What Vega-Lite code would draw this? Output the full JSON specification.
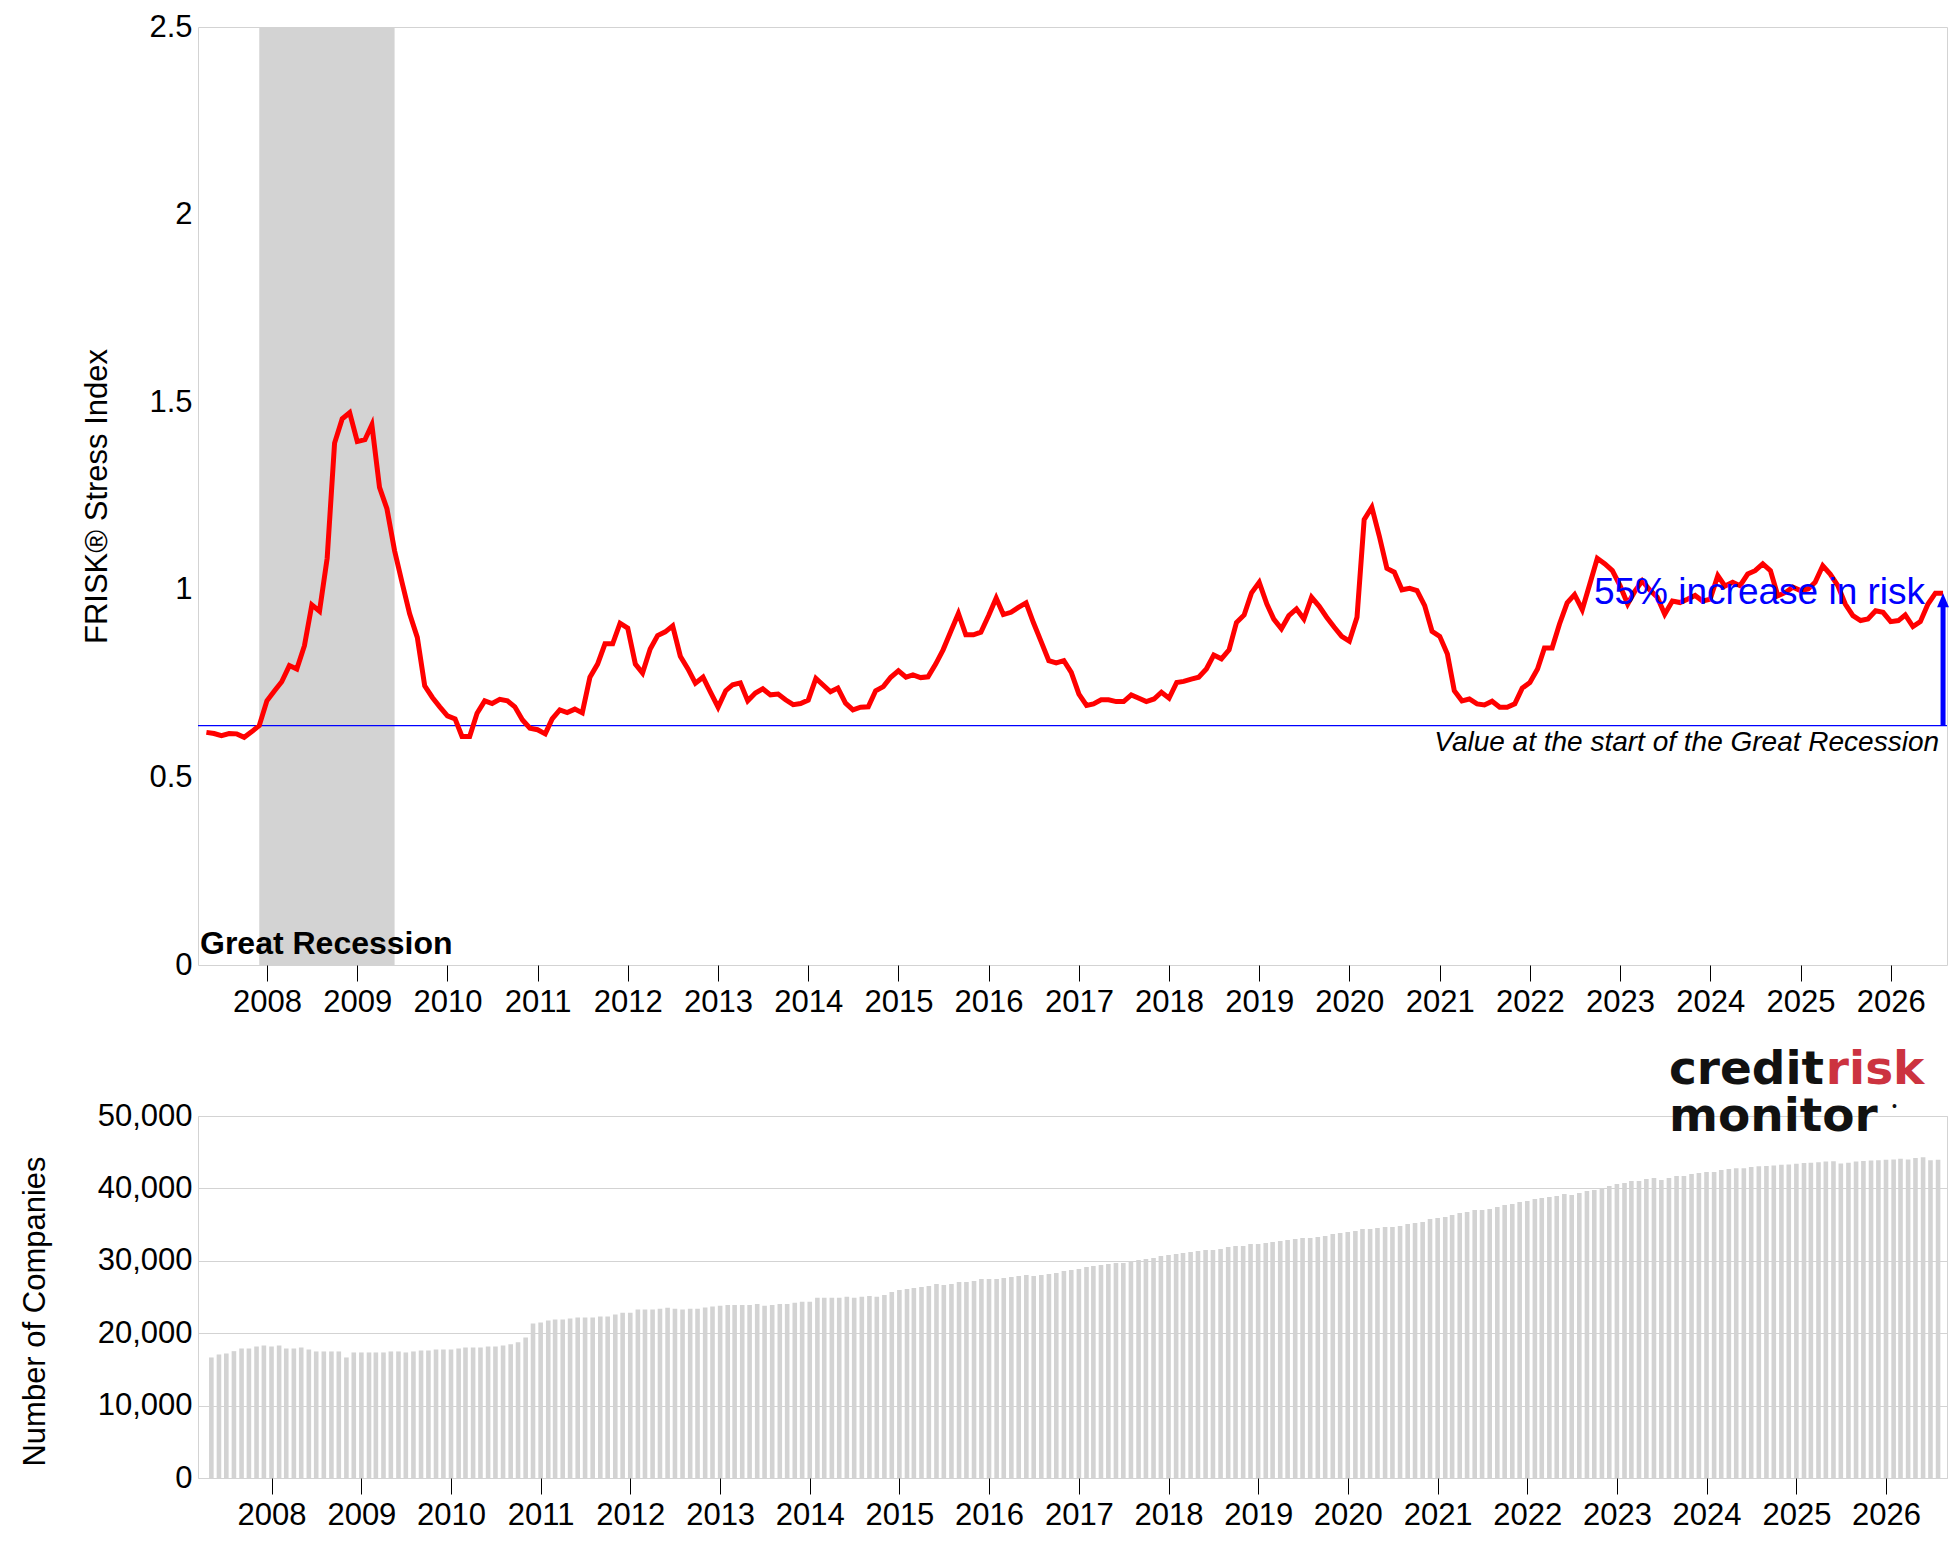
{
  "$schema": "https://vega.github.io/schema/vega-lite/v6.json",
  "background": "white",
  "padding": {"left": 18, "top": 10, "right": 3, "bottom": 3},
  "spacing": 27,
  "config": {
    "font": "Liberation Sans",
    "view": {"stroke": "#d3d3d3"},
    "axis": {
      "labelFont": "Liberation Sans", "labelFontSize": 31, "labelColor": "black",
      "titleFont": "Liberation Sans", "titleFontSize": 31, "titleFontWeight": "normal", "titleColor": "black",
      "gridColor": "#d3d3d3", "domain": false, "tickColor": "black"
    }
  },
  "datasets": {
    "frisk": [
      {"date": "2007-05-01", "frisk": 0.620, "companies": 16650},
      {"date": "2007-06-01", "frisk": 0.617, "companies": 17060},
      {"date": "2007-07-01", "frisk": 0.611, "companies": 17200},
      {"date": "2007-08-01", "frisk": 0.617, "companies": 17520},
      {"date": "2007-09-01", "frisk": 0.616, "companies": 17890},
      {"date": "2007-10-01", "frisk": 0.607, "companies": 17890},
      {"date": "2007-11-01", "frisk": 0.622, "companies": 18170},
      {"date": "2007-12-01", "frisk": 0.638, "companies": 18300},
      {"date": "2008-01-01", "frisk": 0.704, "companies": 18170},
      {"date": "2008-02-01", "frisk": 0.731, "companies": 18300},
      {"date": "2008-03-01", "frisk": 0.755, "companies": 17890},
      {"date": "2008-04-01", "frisk": 0.798, "companies": 17890},
      {"date": "2008-05-01", "frisk": 0.789, "companies": 18030},
      {"date": "2008-06-01", "frisk": 0.851, "companies": 17750},
      {"date": "2008-07-01", "frisk": 0.960, "companies": 17480},
      {"date": "2008-08-01", "frisk": 0.943, "companies": 17480},
      {"date": "2008-09-01", "frisk": 1.084, "companies": 17480},
      {"date": "2008-10-01", "frisk": 1.391, "companies": 17480},
      {"date": "2008-11-01", "frisk": 1.456, "companies": 16650},
      {"date": "2008-12-01", "frisk": 1.472, "companies": 17340},
      {"date": "2009-01-01", "frisk": 1.395, "companies": 17340},
      {"date": "2009-02-01", "frisk": 1.400, "companies": 17340},
      {"date": "2009-03-01", "frisk": 1.440, "companies": 17340},
      {"date": "2009-04-01", "frisk": 1.273, "companies": 17340},
      {"date": "2009-05-01", "frisk": 1.216, "companies": 17480},
      {"date": "2009-06-01", "frisk": 1.104, "companies": 17480},
      {"date": "2009-07-01", "frisk": 1.020, "companies": 17340},
      {"date": "2009-08-01", "frisk": 0.936, "companies": 17480},
      {"date": "2009-09-01", "frisk": 0.873, "companies": 17610},
      {"date": "2009-10-01", "frisk": 0.744, "companies": 17610},
      {"date": "2009-11-01", "frisk": 0.713, "companies": 17750},
      {"date": "2009-12-01", "frisk": 0.688, "companies": 17750},
      {"date": "2010-01-01", "frisk": 0.664, "companies": 17750},
      {"date": "2010-02-01", "frisk": 0.656, "companies": 17890},
      {"date": "2010-03-01", "frisk": 0.609, "companies": 18030},
      {"date": "2010-04-01", "frisk": 0.609, "companies": 18030},
      {"date": "2010-05-01", "frisk": 0.671, "companies": 18030},
      {"date": "2010-06-01", "frisk": 0.704, "companies": 18170},
      {"date": "2010-07-01", "frisk": 0.697, "companies": 18170},
      {"date": "2010-08-01", "frisk": 0.708, "companies": 18300},
      {"date": "2010-09-01", "frisk": 0.704, "companies": 18490},
      {"date": "2010-10-01", "frisk": 0.688, "companies": 18760},
      {"date": "2010-11-01", "frisk": 0.653, "companies": 19400},
      {"date": "2010-12-01", "frisk": 0.631, "companies": 21330},
      {"date": "2011-01-01", "frisk": 0.627, "companies": 21470},
      {"date": "2011-02-01", "frisk": 0.616, "companies": 21740},
      {"date": "2011-03-01", "frisk": 0.656, "companies": 21880},
      {"date": "2011-04-01", "frisk": 0.680, "companies": 21880},
      {"date": "2011-05-01", "frisk": 0.673, "companies": 22020},
      {"date": "2011-06-01", "frisk": 0.682, "companies": 22160},
      {"date": "2011-07-01", "frisk": 0.672, "companies": 22160},
      {"date": "2011-08-01", "frisk": 0.767, "companies": 22160},
      {"date": "2011-09-01", "frisk": 0.802, "companies": 22290},
      {"date": "2011-10-01", "frisk": 0.856, "companies": 22290},
      {"date": "2011-11-01", "frisk": 0.856, "companies": 22570},
      {"date": "2011-12-01", "frisk": 0.911, "companies": 22840},
      {"date": "2012-01-01", "frisk": 0.898, "companies": 22840},
      {"date": "2012-02-01", "frisk": 0.802, "companies": 23260},
      {"date": "2012-03-01", "frisk": 0.778, "companies": 23260},
      {"date": "2012-04-01", "frisk": 0.842, "companies": 23260},
      {"date": "2012-05-01", "frisk": 0.878, "companies": 23390},
      {"date": "2012-06-01", "frisk": 0.888, "companies": 23530},
      {"date": "2012-07-01", "frisk": 0.904, "companies": 23390},
      {"date": "2012-08-01", "frisk": 0.823, "companies": 23260},
      {"date": "2012-09-01", "frisk": 0.789, "companies": 23390},
      {"date": "2012-10-01", "frisk": 0.751, "companies": 23390},
      {"date": "2012-11-01", "frisk": 0.767, "companies": 23560},
      {"date": "2012-12-01", "frisk": 0.727, "companies": 23700},
      {"date": "2013-01-01", "frisk": 0.687, "companies": 23780},
      {"date": "2013-02-01", "frisk": 0.731, "companies": 23910},
      {"date": "2013-03-01", "frisk": 0.747, "companies": 23910},
      {"date": "2013-04-01", "frisk": 0.752, "companies": 23910},
      {"date": "2013-05-01", "frisk": 0.704, "companies": 23910},
      {"date": "2013-06-01", "frisk": 0.725, "companies": 24050},
      {"date": "2013-07-01", "frisk": 0.736, "companies": 23780},
      {"date": "2013-08-01", "frisk": 0.720, "companies": 23910},
      {"date": "2013-09-01", "frisk": 0.722, "companies": 24050},
      {"date": "2013-10-01", "frisk": 0.707, "companies": 24050},
      {"date": "2013-11-01", "frisk": 0.694, "companies": 24190},
      {"date": "2013-12-01", "frisk": 0.697, "companies": 24330},
      {"date": "2014-01-01", "frisk": 0.706, "companies": 24330},
      {"date": "2014-02-01", "frisk": 0.764, "companies": 24880},
      {"date": "2014-03-01", "frisk": 0.747, "companies": 24880},
      {"date": "2014-04-01", "frisk": 0.728, "companies": 24880},
      {"date": "2014-05-01", "frisk": 0.738, "companies": 24880},
      {"date": "2014-06-01", "frisk": 0.698, "companies": 25020},
      {"date": "2014-07-01", "frisk": 0.680, "companies": 24880},
      {"date": "2014-08-01", "frisk": 0.687, "companies": 25020},
      {"date": "2014-09-01", "frisk": 0.688, "companies": 25150},
      {"date": "2014-10-01", "frisk": 0.731, "companies": 25020},
      {"date": "2014-11-01", "frisk": 0.742, "companies": 25290},
      {"date": "2014-12-01", "frisk": 0.767, "companies": 25700},
      {"date": "2015-01-01", "frisk": 0.784, "companies": 25980},
      {"date": "2015-02-01", "frisk": 0.767, "companies": 26120},
      {"date": "2015-03-01", "frisk": 0.773, "companies": 26260},
      {"date": "2015-04-01", "frisk": 0.766, "companies": 26390},
      {"date": "2015-05-01", "frisk": 0.768, "companies": 26530},
      {"date": "2015-06-01", "frisk": 0.802, "companies": 26810},
      {"date": "2015-07-01", "frisk": 0.840, "companies": 26670},
      {"date": "2015-08-01", "frisk": 0.889, "companies": 26810},
      {"date": "2015-09-01", "frisk": 0.937, "companies": 27080},
      {"date": "2015-10-01", "frisk": 0.880, "companies": 27080},
      {"date": "2015-11-01", "frisk": 0.880, "companies": 27220},
      {"date": "2015-12-01", "frisk": 0.887, "companies": 27490},
      {"date": "2016-01-01", "frisk": 0.931, "companies": 27490},
      {"date": "2016-02-01", "frisk": 0.978, "companies": 27490},
      {"date": "2016-03-01", "frisk": 0.934, "companies": 27630},
      {"date": "2016-04-01", "frisk": 0.940, "companies": 27770},
      {"date": "2016-05-01", "frisk": 0.953, "companies": 27910},
      {"date": "2016-06-01", "frisk": 0.965, "companies": 28050},
      {"date": "2016-07-01", "frisk": 0.912, "companies": 27910},
      {"date": "2016-08-01", "frisk": 0.862, "companies": 28050},
      {"date": "2016-09-01", "frisk": 0.811, "companies": 28180},
      {"date": "2016-10-01", "frisk": 0.805, "companies": 28320},
      {"date": "2016-11-01", "frisk": 0.811, "companies": 28600},
      {"date": "2016-12-01", "frisk": 0.780, "companies": 28730},
      {"date": "2017-01-01", "frisk": 0.722, "companies": 28870},
      {"date": "2017-02-01", "frisk": 0.692, "companies": 29150},
      {"date": "2017-03-01", "frisk": 0.696, "companies": 29280},
      {"date": "2017-04-01", "frisk": 0.707, "companies": 29420},
      {"date": "2017-05-01", "frisk": 0.707, "companies": 29560},
      {"date": "2017-06-01", "frisk": 0.702, "companies": 29700},
      {"date": "2017-07-01", "frisk": 0.702, "companies": 29700},
      {"date": "2017-08-01", "frisk": 0.720, "companies": 29970},
      {"date": "2017-09-01", "frisk": 0.711, "companies": 30110},
      {"date": "2017-10-01", "frisk": 0.702, "companies": 30250},
      {"date": "2017-11-01", "frisk": 0.709, "companies": 30390},
      {"date": "2017-12-01", "frisk": 0.727, "companies": 30660},
      {"date": "2018-01-01", "frisk": 0.711, "companies": 30800},
      {"date": "2018-02-01", "frisk": 0.753, "companies": 30940},
      {"date": "2018-03-01", "frisk": 0.756, "companies": 31070},
      {"date": "2018-04-01", "frisk": 0.762, "companies": 31210},
      {"date": "2018-05-01", "frisk": 0.767, "companies": 31350},
      {"date": "2018-06-01", "frisk": 0.789, "companies": 31490},
      {"date": "2018-07-01", "frisk": 0.826, "companies": 31490},
      {"date": "2018-08-01", "frisk": 0.816, "companies": 31630},
      {"date": "2018-09-01", "frisk": 0.840, "companies": 31910},
      {"date": "2018-10-01", "frisk": 0.913, "companies": 32050},
      {"date": "2018-11-01", "frisk": 0.933, "companies": 32050},
      {"date": "2018-12-01", "frisk": 0.992, "companies": 32320},
      {"date": "2019-01-01", "frisk": 1.020, "companies": 32320},
      {"date": "2019-02-01", "frisk": 0.962, "companies": 32460},
      {"date": "2019-03-01", "frisk": 0.922, "companies": 32600},
      {"date": "2019-04-01", "frisk": 0.896, "companies": 32740},
      {"date": "2019-05-01", "frisk": 0.931, "companies": 32880},
      {"date": "2019-06-01", "frisk": 0.949, "companies": 33010},
      {"date": "2019-07-01", "frisk": 0.922, "companies": 33150},
      {"date": "2019-08-01", "frisk": 0.980, "companies": 33150},
      {"date": "2019-09-01", "frisk": 0.956, "companies": 33290},
      {"date": "2019-10-01", "frisk": 0.927, "companies": 33430},
      {"date": "2019-11-01", "frisk": 0.900, "companies": 33700},
      {"date": "2019-12-01", "frisk": 0.876, "companies": 33840},
      {"date": "2020-01-01", "frisk": 0.863, "companies": 33980},
      {"date": "2020-02-01", "frisk": 0.927, "companies": 34120},
      {"date": "2020-03-01", "frisk": 1.187, "companies": 34390},
      {"date": "2020-04-01", "frisk": 1.220, "companies": 34390},
      {"date": "2020-05-01", "frisk": 1.144, "companies": 34530},
      {"date": "2020-06-01", "frisk": 1.057, "companies": 34670},
      {"date": "2020-07-01", "frisk": 1.047, "companies": 34670},
      {"date": "2020-08-01", "frisk": 1.000, "companies": 34810},
      {"date": "2020-09-01", "frisk": 1.004, "companies": 35080},
      {"date": "2020-10-01", "frisk": 0.998, "companies": 35220},
      {"date": "2020-11-01", "frisk": 0.958, "companies": 35360},
      {"date": "2020-12-01", "frisk": 0.889, "companies": 35770},
      {"date": "2021-01-01", "frisk": 0.876, "companies": 35910},
      {"date": "2021-02-01", "frisk": 0.829, "companies": 36050},
      {"date": "2021-03-01", "frisk": 0.731, "companies": 36320},
      {"date": "2021-04-01", "frisk": 0.704, "companies": 36600},
      {"date": "2021-05-01", "frisk": 0.709, "companies": 36740},
      {"date": "2021-06-01", "frisk": 0.696, "companies": 37010},
      {"date": "2021-07-01", "frisk": 0.693, "companies": 37010},
      {"date": "2021-08-01", "frisk": 0.703, "companies": 37150},
      {"date": "2021-09-01", "frisk": 0.687, "companies": 37430},
      {"date": "2021-10-01", "frisk": 0.687, "companies": 37700},
      {"date": "2021-11-01", "frisk": 0.696, "companies": 37840},
      {"date": "2021-12-01", "frisk": 0.738, "companies": 38120},
      {"date": "2022-01-01", "frisk": 0.753, "companies": 38260},
      {"date": "2022-02-01", "frisk": 0.789, "companies": 38530},
      {"date": "2022-03-01", "frisk": 0.845, "companies": 38670},
      {"date": "2022-04-01", "frisk": 0.845, "companies": 38810},
      {"date": "2022-05-01", "frisk": 0.909, "companies": 38950},
      {"date": "2022-06-01", "frisk": 0.965, "companies": 39220},
      {"date": "2022-07-01", "frisk": 0.987, "companies": 39080},
      {"date": "2022-08-01", "frisk": 0.947, "companies": 39360},
      {"date": "2022-09-01", "frisk": 1.016, "companies": 39640},
      {"date": "2022-10-01", "frisk": 1.084, "companies": 39770},
      {"date": "2022-11-01", "frisk": 1.069, "companies": 40050},
      {"date": "2022-12-01", "frisk": 1.051, "companies": 40330},
      {"date": "2023-01-01", "frisk": 1.011, "companies": 40600},
      {"date": "2023-02-01", "frisk": 0.962, "companies": 40740},
      {"date": "2023-03-01", "frisk": 0.995, "companies": 41020},
      {"date": "2023-04-01", "frisk": 1.024, "companies": 41020},
      {"date": "2023-05-01", "frisk": 1.000, "companies": 41290},
      {"date": "2023-06-01", "frisk": 0.980, "companies": 41430},
      {"date": "2023-07-01", "frisk": 0.935, "companies": 41150},
      {"date": "2023-08-01", "frisk": 0.970, "companies": 41430},
      {"date": "2023-09-01", "frisk": 0.966, "companies": 41700},
      {"date": "2023-10-01", "frisk": 0.975, "companies": 41700},
      {"date": "2023-11-01", "frisk": 0.985, "companies": 41980},
      {"date": "2023-12-01", "frisk": 0.970, "companies": 42120},
      {"date": "2024-01-01", "frisk": 0.975, "companies": 42260},
      {"date": "2024-02-01", "frisk": 1.038, "companies": 42260},
      {"date": "2024-03-01", "frisk": 1.010, "companies": 42530},
      {"date": "2024-04-01", "frisk": 1.020, "companies": 42670},
      {"date": "2024-05-01", "frisk": 1.011, "companies": 42800},
      {"date": "2024-06-01", "frisk": 1.042, "companies": 42800},
      {"date": "2024-07-01", "frisk": 1.051, "companies": 42950},
      {"date": "2024-08-01", "frisk": 1.069, "companies": 43050},
      {"date": "2024-09-01", "frisk": 1.051, "companies": 43100},
      {"date": "2024-10-01", "frisk": 0.984, "companies": 43150},
      {"date": "2024-11-01", "frisk": 0.993, "companies": 43250},
      {"date": "2024-12-01", "frisk": 1.007, "companies": 43300},
      {"date": "2025-01-01", "frisk": 0.998, "companies": 43400},
      {"date": "2025-02-01", "frisk": 1.002, "companies": 43500},
      {"date": "2025-03-01", "frisk": 1.020, "companies": 43550},
      {"date": "2025-04-01", "frisk": 1.064, "companies": 43600},
      {"date": "2025-05-01", "frisk": 1.042, "companies": 43700},
      {"date": "2025-06-01", "frisk": 1.011, "companies": 43750},
      {"date": "2025-07-01", "frisk": 0.962, "companies": 43450},
      {"date": "2025-08-01", "frisk": 0.931, "companies": 43550},
      {"date": "2025-09-01", "frisk": 0.918, "companies": 43700},
      {"date": "2025-10-01", "frisk": 0.922, "companies": 43800},
      {"date": "2025-11-01", "frisk": 0.944, "companies": 43850},
      {"date": "2025-12-01", "frisk": 0.940, "companies": 43900},
      {"date": "2026-01-01", "frisk": 0.915, "companies": 43950},
      {"date": "2026-02-01", "frisk": 0.918, "companies": 44000},
      {"date": "2026-03-01", "frisk": 0.933, "companies": 44100},
      {"date": "2026-04-01", "frisk": 0.902, "companies": 44000},
      {"date": "2026-05-01", "frisk": 0.915, "companies": 44200},
      {"date": "2026-06-01", "frisk": 0.962, "companies": 44300},
      {"date": "2026-07-01", "frisk": 0.991, "companies": 43900},
      {"date": "2026-08-01", "frisk": 0.991, "companies": 43950}
    ]
  },
  "vconcat": [
    {
      "width": 1749,
      "height": 938,
      "layer": [
        {
          "data": {"values": [{"start": "2007-12-01", "end": "2009-06-01"}]},
          "mark": {"type": "rect", "color": "#d3d3d3"},
          "encoding": {
            "x": {"field": "start", "type": "temporal"},
            "x2": {"field": "end"}
          }
        },
        {
          "data": {"values": [{}]},
          "mark": {"type": "text", "text": "Great Recession", "align": "left", "baseline": "alphabetic", "dx": 2, "dy": -11, "fontSize": 32, "fontWeight": "bold", "color": "black"},
          "encoding": {
            "x": {"datum": {"year": 2007, "month": 3, "date": 28, "utc": true}, "type": "temporal"},
            "y": {"datum": 0, "type": "quantitative"}
          }
        },
        {
          "data": {"values": [{}]},
          "mark": {"type": "rule", "color": "blue", "strokeWidth": 1.3},
          "encoding": {"y": {"datum": 0.638, "type": "quantitative"}}
        },
        {
          "data": {"values": [{}]},
          "mark": {"type": "text", "text": "Value at the start of the Great Recession", "align": "right", "baseline": "top", "dx": -4, "dy": 3, "fontSize": 28, "fontStyle": "italic", "color": "black"},
          "encoding": {
            "x": {"datum": {"year": 2026, "month": 8, "date": 1, "utc": true}, "type": "temporal"},
            "y": {"datum": 0.638, "type": "quantitative"}
          }
        },
        {
          "data": {"name": "frisk"},
          "mark": {"type": "line", "color": "#ff0000", "strokeWidth": 5},
          "encoding": {
            "x": {
              "field": "date", "type": "temporal",
              "scale": {"type": "utc", "domain": [{"year": 2007, "month": 3, "date": 28, "utc": true}, {"year": 2026, "month": 8, "date": 17, "utc": true}]},
              "axis": {"title": null, "format": "%Y", "tickCount": {"interval": "year", "step": 1}, "grid": false, "tickSize": 16, "labelPadding": 6, "labelOverlap": false, "labelFlush": false}
            },
            "y": {
              "field": "frisk", "type": "quantitative",
              "scale": {"domain": [0, 2.5], "nice": false},
              "axis": {"title": "FRISK® Stress Index", "format": "~g", "values": [0, 0.5, 1, 1.5, 2, 2.5], "ticks": false, "labelPadding": 6, "titlePadding": 35}
            }
          }
        },
        {
          "data": {"values": [{}]},
          "mark": {"type": "rule", "color": "blue", "strokeWidth": 5},
          "encoding": {
            "x": {"datum": {"year": 2026, "month": 8, "date": 1, "utc": true}, "type": "temporal"},
            "y": {"datum": 0.638, "type": "quantitative"},
            "y2": {"datum": 0.972}
          }
        },
        {
          "data": {"values": [{}]},
          "mark": {"type": "point", "shape": "M0,0L-0.85,2L0.85,2Z", "filled": true, "color": "blue", "size": 196, "opacity": 1, "strokeWidth": 0},
          "encoding": {
            "x": {"datum": {"year": 2026, "month": 8, "date": 1, "utc": true}, "type": "temporal"},
            "y": {"datum": 0.991, "type": "quantitative"}
          }
        },
        {
          "data": {"values": [{}]},
          "mark": {"type": "text", "text": "55% increase in risk", "align": "right", "baseline": "middle", "dx": -18, "fontSize": 37, "color": "blue"},
          "encoding": {
            "x": {"datum": {"year": 2026, "month": 8, "date": 1, "utc": true}, "type": "temporal"},
            "y": {"datum": 0.991, "type": "quantitative"}
          }
        }
      ]
    },
    {
      "width": 1749,
      "height": 362,
      "layer": [
        {
          "data": {"name": "frisk"},
          "mark": {"type": "bar", "color": "#d3d3d3", "width": 4.6},
          "encoding": {
            "x": {
              "field": "date", "type": "temporal",
              "scale": {"type": "utc", "domain": [{"year": 2007, "month": 3, "date": 28, "utc": true}, {"year": 2026, "month": 8, "date": 17, "utc": true}]},
              "axis": {"title": null, "format": "%Y", "tickCount": {"interval": "year", "step": 1}, "grid": false, "tickSize": 16, "labelPadding": 6, "labelOverlap": false, "labelFlush": false}
            },
            "y": {
              "field": "companies", "type": "quantitative",
              "scale": {"domain": [0, 50000], "nice": false},
              "axis": {"title": "Number of Companies", "format": ",d", "values": [0, 10000, 20000, 30000, 40000, 50000], "ticks": false, "labelPadding": 6, "titlePadding": 46, "titleY": 195}
            }
          }
        },
        {
          "data": {"values": [{}]},
          "mark": {"type": "text", "text": "credit", "align": "left", "baseline": "alphabetic", "font": "DejaVu Sans", "fontWeight": "bold", "fontSize": 47, "color": "#111111"},
          "encoding": {
            "x": {"datum": {"year": 2023, "month": 8, "date": 1, "utc": true}, "type": "temporal"},
            "y": {"datum": 54400, "type": "quantitative"}
          }
        },
        {
          "data": {"values": [{}]},
          "mark": {"type": "text", "text": "risk", "align": "left", "baseline": "alphabetic", "font": "DejaVu Sans", "fontWeight": "bold", "fontSize": 47, "color": "#cc3340"},
          "encoding": {
            "x": {"datum": {"year": 2025, "month": 5, "date": 1, "utc": true}, "type": "temporal"},
            "y": {"datum": 54400, "type": "quantitative"}
          }
        },
        {
          "data": {"values": [{}]},
          "mark": {"type": "text", "text": "monitor", "align": "left", "baseline": "alphabetic", "font": "DejaVu Sans", "fontWeight": "bold", "fontSize": 47, "color": "#111111"},
          "encoding": {
            "x": {"datum": {"year": 2023, "month": 8, "date": 1, "utc": true}, "type": "temporal"},
            "y": {"datum": 47900, "type": "quantitative"}
          }
        },
        {
          "data": {"values": [{}]},
          "mark": {"type": "text", "text": "•", "align": "left", "baseline": "middle", "dx": 6, "fontSize": 14, "color": "#111111"},
          "encoding": {
            "x": {"datum": {"year": 2026, "month": 1, "date": 1, "utc": true}, "type": "temporal"},
            "y": {"datum": 51200, "type": "quantitative"}
          }
        }
      ]
    }
  ]
}
